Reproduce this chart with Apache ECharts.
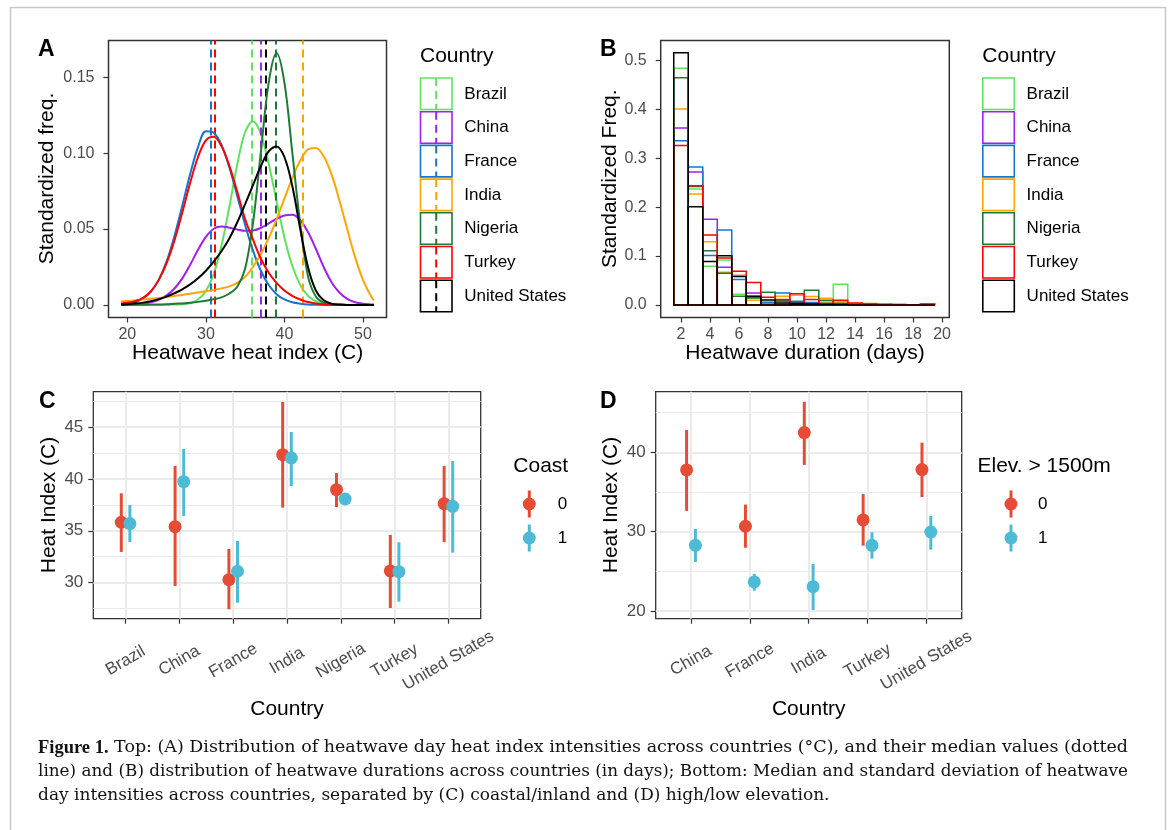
<!DOCTYPE html>
<html><head><meta charset="utf-8">
<script src="https://cdn.jsdelivr.net/npm/echarts@6/dist/echarts.min.js"></script>
<style>html,body{margin:0;padding:0;background:#fff}#c{width:1170px;height:830px}</style>
</head><body><div id="c"></div>
<script>
// ---------------- DATA ----------------
const countries = ['Brazil','China','France','India','Nigeria','Turkey','United States'];
const countryColors = ['#5FE35F','#A020F0','#1874CD','#FFA500','#1F7A3A','#FF0000','#000000'];

// Panel A: density of heatwave heat index
const heatX = [19.2,20,21,22,23,24,25,26,27,28,29,30,31,32,33,34,35,36,37,38,39,40,41,42,43,44,45,46,47,48,49,50,51,51.4];
const densBrazil  = [0,0,0,0,0,0,0.0001,0.0002,0.0004,0.0012,0.0036,0.0092,0.0205,0.0393,0.0650,0.0927,0.1140,0.1210,0.1126,0.0930,0.0684,0.0445,0.0258,0.0133,0.0060,0.0024,0.0009,0.0003,0.0001,0,0,0,0,0];
const densChina   = [0.0001,0.0002,0.0004,0.0008,0.0017,0.0033,0.0063,0.0108,0.0175,0.0265,0.0363,0.0448,0.0502,0.0517,0.0509,0.0497,0.0489,0.0491,0.0507,0.0537,0.0568,0.0590,0.0594,0.0560,0.0480,0.0370,0.0250,0.0150,0.0082,0.0040,0.0018,0.0008,0.0003,0.0002];
const densFrance  = [0.0003,0.0007,0.0018,0.0042,0.0087,0.0165,0.0287,0.0454,0.0655,0.0863,0.1040,0.1145,0.1135,0.1054,0.0904,0.0717,0.0527,0.0358,0.0225,0.0131,0.0071,0.0036,0.0017,0.0008,0.0003,0.0001,0,0,0,0,0,0,0,0];
const densIndia   = [0.0022,0.0025,0.0030,0.0035,0.0040,0.0046,0.0052,0.0059,0.0066,0.0074,0.0082,0.0090,0.0099,0.0109,0.0122,0.0145,0.0185,0.0250,0.0335,0.0440,0.0565,0.0700,0.0835,0.0950,0.1025,0.1035,0.0980,0.0860,0.0690,0.0500,0.0315,0.0165,0.0060,0.0030];
const densNigeria = [0,0,0.0001,0.0001,0.0002,0.0003,0.0005,0.0008,0.0010,0.0015,0.0020,0.0027,0.0037,0.0050,0.0075,0.0120,0.0240,0.0540,0.1007,0.1465,0.1660,0.1465,0.1007,0.0540,0.0190,0.0055,0.0015,0.0004,0.0001,0,0,0,0,0];
const densTurkey  = [0.0010,0.0014,0.0024,0.0046,0.0090,0.0165,0.0275,0.0425,0.0610,0.0805,0.0975,0.1085,0.1108,0.1045,0.0915,0.0745,0.0565,0.0430,0.0305,0.0212,0.0145,0.0095,0.0060,0.0036,0.0019,0.0009,0.0004,0.0002,0.0001,0,0,0,0,0];
const densUS      = [0.0003,0.0005,0.0009,0.0015,0.0025,0.0038,0.0055,0.0077,0.0103,0.0135,0.0175,0.0225,0.0285,0.0355,0.0440,0.0545,0.0665,0.0790,0.0915,0.1012,0.1045,0.0975,0.0785,0.0505,0.0250,0.0095,0.0030,0.0008,0.0002,0,0,0,0,0];
const heatMedians = [35.9, 37.0, 30.65, 42.3, 38.9, 31.15, 37.6];
const heatTicks = [20,30,40,50];
const freqTicksA = [0,0.05,0.10,0.15];

// Panel B: histogram of heatwave duration
const durationDays = [2,3,4,5,6,7,8,9,10,11,12,13,14,15,16,17,18,19];
const histBrazil  = [0.484,0.237,0.079,0.092,0.022,0.014,0.006,0.003,0.002,0.004,0.006,0.042,0.001,0,0,0,0,0];
const histChina   = [0.362,0.272,0.175,0.077,0.060,0.0245,0.004,0.0075,0.006,0.004,0.002,0.001,0.001,0,0,0,0,0];
const histFrance  = [0.336,0.282,0.101,0.153,0.052,0.018,0.0054,0.0245,0.0075,0.005,0.002,0.005,0.001,0,0,0,0,0];
const histIndia   = [0.401,0.227,0.129,0.067,0.060,0.0095,0.0075,0.0177,0.0197,0.017,0.0136,0.006,0.003,0.003,0.002,0,0,0];
const histNigeria = [0.465,0.2425,0.111,0.065,0.0177,0.014,0.026,0.0095,0.006,0.030,0.0095,0.002,0.001,0,0,0,0,0];
const histTurkey  = [0.326,0.244,0.143,0.096,0.0686,0.046,0.0156,0.011,0.023,0.011,0.003,0.0095,0.004,0.002,0.001,0.001,0,0.002];
const histUS      = [0.516,0.201,0.089,0.1005,0.058,0.017,0.010,0.004,0.003,0.002,0.001,0.001,0,0,0,0,0,0];
const durTicks = [2,4,6,8,10,12,14,16,18,20];
const freqTicksB = [0,0.1,0.2,0.3,0.4,0.5];

// Panel C: coast
const coastCountries = ['Brazil','China','France','India','Nigeria','Turkey','United States'];
const coast0Median = [35.82,35.40,30.29,42.33,38.96,31.13,37.61];
const coast0Low    = [32.96,29.68,27.44,37.23,37.29,27.56,33.92];
const coast0High   = [38.61,41.24,33.25,47.41,40.57,34.60,41.24];
const coast1Median = [35.69,39.73,31.10,42.01,38.06,31.06,37.36];
const coast1Low    = [33.92,36.43,28.07,39.32,37.70,28.17,32.89];
const coast1High   = [37.49,42.88,34.02,44.52,38.40,33.89,41.72];
const heatTicksC = [30,35,40,45];
const heatMinorC = [27.5,32.5,37.5,42.5,47.5];

// Panel D: elevation
const elevCountries = ['China','France','India','Turkey','United States'];
const elev0Median = [37.78,30.68,42.49,31.48,37.82];
const elev0Low    = [32.61,27.98,38.41,28.24,34.37];
const elev0High   = [42.82,33.41,46.36,34.75,41.22];
const elev1Median = [28.28,23.66,23.07,28.28,29.96];
const elev1Low    = [26.18,22.56,20.13,26.60,27.73];
const elev1High   = [30.34,24.67,25.93,29.92,31.98];
const heatTicksD = [20,30,40];
const heatMinorD = [25,35,45];

// ---------------- BUILD ----------------
const FONT = '"Liberation Sans", Arial, Helvetica, sans-serif';
const SERIF = '"DejaVu Serif", "Liberation Serif", serif';
const SERIFB = '"Liberation Serif", "Times New Roman", serif';
const TICKC = '#4D4D4D';
const RED = '#E64B35', BLUE = '#4DBBD5';

const densSets = [densBrazil,densChina,densFrance,densIndia,densNigeria,densTurkey,densUS];
const histSets = [histBrazil,histChina,histFrance,histIndia,histNigeria,histTurkey,histUS];

function valAxis(gi, min, max, ticks, fmt, fs, margin, extra) {
  return Object.assign({
    type:'value', gridIndex:gi, min:min, max:max, scale:false,
    axisLine:{show:false, onZero:false},
    axisTick:{show:true, length:5, lineStyle:{color:'#333', width:1.2}, customValues:ticks},
    axisLabel:{show:true, customValues:ticks, formatter:fmt, color:TICKC, fontSize:fs, fontFamily:FONT, margin:margin},
    splitLine:{show:false}, minorTick:{show:false}, minorSplitLine:{show:false}
  }, extra||{});
}
function minorAxis(gi, min, max, ticks, w) {
  return {type:'value', gridIndex:gi, min:min, max:max, position:'left',
    axisLine:{show:false, onZero:false}, axisTick:{show:false, customValues:ticks}, axisLabel:{show:false, customValues:ticks},
    splitLine:{show:true, lineStyle:{color:'#EBEBEB', width:w}}};
}

const series = [];
// A densities
countries.forEach((c,k)=>{
  series.push({
    type:'line', name:c, xAxisIndex:0, yAxisIndex:0, data: heatX.map((x,i)=>[x, densSets[k][i]]),
    showSymbol:false, symbol:'none', smooth:0.35, lineStyle:{color:countryColors[k], width:2}, itemStyle:{color:countryColors[k]},
    z:3+k,
    markLine:{silent:true, symbol:['none','none'], label:{show:false}, animation:false,
      lineStyle:{color:countryColors[k], width:2, type:[8,5]}, data:[{xAxis:heatMedians[k]}]}
  });
});
// B histograms
countries.forEach((c,k)=>{
  series.push({
    type:'custom', name:c+' hist', xAxisIndex:1, yAxisIndex:1, z:3+k,
    data: durationDays.map((d,i)=>[d, histSets[k][i]]),
    renderItem:(params, api)=>{
      const x = api.value(0), y = api.value(1);
      const p0 = api.coord([x-0.5, y]), p1 = api.coord([x+0.5, 0]);
      return {type:'rect', shape:{x:p0[0], y:p0[1], width:p1[0]-p0[0], height:p1[1]-p0[1]},
        style:{fill:'none', stroke:countryColors[k], lineWidth:1.5}};
    }
  });
});
// C / D pointranges
function errSeries(xi, yi, xs, lo, hi, dodge, color, z) {
  return {type:'custom', xAxisIndex:xi, yAxisIndex:yi, z:z,
    data: xs.map((_,i)=>[i+dodge, lo[i], hi[i]]),
    renderItem:(params, api)=>{
      const a = api.coord([api.value(0), api.value(1)]), b = api.coord([api.value(0), api.value(2)]);
      return {type:'line', shape:{x1:a[0], y1:a[1], x2:b[0], y2:b[1]}, style:{stroke:color, lineWidth:3}};
    }};
}
function ptSeries(xi, yi, xs, med, dodge, color, z) {
  return {type:'scatter', xAxisIndex:xi, yAxisIndex:yi, z:z, symbol:'circle', symbolSize:13,
    itemStyle:{color:color, opacity:1, borderWidth:0}, data: xs.map((_,i)=>[i+dodge, med[i]])};
}
const dC = 0.08, dD = 0.075;
series.push(errSeries(2,2,coastCountries,coast0Low,coast0High,-dC,RED,10));
series.push(ptSeries(2,2,coastCountries,coast0Median,-dC,RED,11));
series.push(errSeries(2,2,coastCountries,coast1Low,coast1High,dC,BLUE,12));
series.push(ptSeries(2,2,coastCountries,coast1Median,dC,BLUE,13));
series.push(errSeries(3,4,elevCountries,elev0Low,elev0High,-dD,RED,10));
series.push(ptSeries(3,4,elevCountries,elev0Median,-dD,RED,11));
series.push(errSeries(3,4,elevCountries,elev1Low,elev1High,dD,BLUE,12));
series.push(ptSeries(3,4,elevCountries,elev1Median,dD,BLUE,13));

// ---------------- GRAPHICS (legends, titles, caption) ----------------
const g = [];
function txt(x, y, text, o) {
  g.push({type:'text', x:x, y:y, z:50, style:Object.assign({text:text, fontFamily:FONT, fontSize:17, fill:'#000', align:'left', verticalAlign:'middle'}, o||{})});
}
function vtxt(x, y, text, o) {
  g.push({type:'text', x:x, y:y, rotation:Math.PI/2, z:50, style:Object.assign({text:text, fontFamily:FONT, fontSize:21, fill:'#000', align:'center', verticalAlign:'middle'}, o||{})});
}
// outer border
g.push({type:'rect', z:0, shape:{x:10.5, y:7.5, width:1155, height:840}, style:{fill:'none', stroke:'#C8C8C8', lineWidth:1.5}});
// panel letters
[['A',38,50],['B',600,50],['C',39,402],['D',600,402]].forEach(p=>txt(p[1],p[2],p[0],{fontSize:23, fontWeight:'bold'}));
// axis titles
txt(247.6, 353.5, 'Heatwave heat index (C)', {fontSize:21, align:'center'});
vtxt(47.5, 178.5, 'Standardized freq.');
txt(805, 353.5, 'Heatwave duration (days)', {fontSize:21, align:'center'});
vtxt(610, 178.7, 'Standardized Freq.');
txt(287, 709, 'Country', {fontSize:21, align:'center'});
vtxt(49, 505, 'Heat Index (C)');
txt(808.7, 709, 'Country', {fontSize:21, align:'center'});
vtxt(611, 505, 'Heat Index (C)');
// legends A & B
function countryLegend(x0, dashed) {
  txt(x0, 56.7, 'Country', {fontSize:21});
  countries.forEach((c,k)=>{
    const top = 78 + k*33.7;
    g.push({type:'rect', z:50, shape:{x:x0+0.5, y:top, width:31.5, height:31.5}, style:{fill:'#fff', stroke:countryColors[k], lineWidth:1.6}});
    if (dashed) g.push({type:'line', z:51, shape:{x1:x0+16.2, y1:top, x2:x0+16.2, y2:top+31.5}, style:{stroke:countryColors[k], lineWidth:2, lineDash:[8,5]}});
    txt(x0+44.3, top+16, c, {fontSize:17});
  });
}
countryLegend(420, true);
countryLegend(982.3, false);
// legends C & D
function pointLegend(x0, titleY, title, dotX, labX) {
  txt(x0, titleY, title, {fontSize:21});
  [[RED,'0',504],[BLUE,'1',538]].forEach(it=>{
    g.push({type:'line', z:50, shape:{x1:dotX, y1:it[2]-13.5, x2:dotX, y2:it[2]+13.5}, style:{stroke:it[0], lineWidth:3}});
    g.push({type:'circle', z:51, shape:{cx:dotX, cy:it[2], r:6.5}, style:{fill:it[0]}});
    txt(labX, it[2], it[1], {fontSize:17});
  });
}
pointLegend(513.3, 466.3, 'Coast', 529.3, 557.7);
pointLegend(977.5, 466.3, 'Elev. > 1500m', 1011, 1038);
// caption (lines 1-2 justified to the text block width, line 3 natural)
const mctx = document.createElement('canvas').getContext('2d');
function measure(font, s) { mctx.font = font; return mctx.measureText(s).width; }
const CAP_FS = 17, CAP_B = 18, CAP_W = 1090;
const capLines = [
  ['Figure 1.', ' Top: (A) Distribution of heatwave day heat index intensities across countries (°C), and their median values (dotted', true],
  ['', 'line) and (B) distribution of heatwave durations across countries (in days); Bottom: Median and standard deviation of heatwave', true],
  ['', 'day intensities across countries, separated by (C) coastal/inland and (D) high/low elevation.', false]
];
capLines.forEach((l,i)=>{
  const w = (l[0] ? measure('bold '+CAP_B+'px "Liberation Serif"', l[0]) : 0) + measure(CAP_FS+'px "DejaVu Serif"', l[1]);
  const sx = l[2] ? CAP_W / w : 1;
  g.push({type:'text', x:38, y:748+i*24, scaleX:sx, z:50, style:{text:(l[0] ? '{b|'+l[0]+'}' : '') + l[1], fontFamily:SERIF, fontSize:CAP_FS, fill:'#111', align:'left', verticalAlign:'middle',
    rich:{b:{fontFamily:SERIFB, fontSize:CAP_B, fontWeight:'bold', fill:'#111'}}}});
});

// ---------------- OPTION ----------------
const option = {
  animation:false,
  backgroundColor:'#fff',
  grid:[
    {left:108.5, top:40.5, width:278, height:277, show:true, borderColor:'#333', borderWidth:1.5, backgroundColor:'#fff', containLabel:false, outerBoundsMode:'none'},
    {left:660.7, top:40.5, width:288.6, height:277, show:true, borderColor:'#333', borderWidth:1.5, backgroundColor:'#fff', containLabel:false, outerBoundsMode:'none'},
    {left:93.3, top:391.7, width:387.4, height:227, show:true, borderColor:'#333', borderWidth:1.3, backgroundColor:'#fff', containLabel:false, outerBoundsMode:'none'},
    {left:655.7, top:391.7, width:306, height:227, show:true, borderColor:'#333', borderWidth:1.3, backgroundColor:'#fff', containLabel:false, outerBoundsMode:'none'}
  ],
  xAxis:[
    valAxis(0, 17.6, 53.0, heatTicks, v=>String(v), 16, 9),
    valAxis(1, 0.6, 20.5, durTicks, v=>String(v), 16, 9),
    valAxis(2, -0.6, 6.6, coastCountries.map((_,i)=>i), v=>coastCountries[Math.round(v)], 17, 42,
      {splitLine:{show:true, lineStyle:{color:'#EBEBEB', width:2}}}),
    valAxis(3, -0.6, 4.6, elevCountries.map((_,i)=>i), v=>elevCountries[Math.round(v)], 17, 42,
      {splitLine:{show:true, lineStyle:{color:'#EBEBEB', width:2}}})
  ],
  yAxis:[
    valAxis(0, -0.0083, 0.1743, freqTicksA, v=>v.toFixed(2), 16, 14),
    valAxis(1, -0.0258, 0.541, freqTicksB, v=>v.toFixed(1), 16, 14),
    valAxis(2, 26.53, 48.4, heatTicksC, v=>String(v), 17, 10, {splitLine:{show:true, lineStyle:{color:'#EBEBEB', width:2}}}),
    minorAxis(2, 26.53, 48.4, heatMinorC, 1.2),
    valAxis(3, 19.03, 47.64, heatTicksD, v=>String(v), 17, 10, {splitLine:{show:true, lineStyle:{color:'#EBEBEB', width:2}}}),
    minorAxis(3, 19.03, 47.64, heatMinorD, 1.2)
  ],
  series: series,
  graphic: g
};
// rotated category labels in C & D
[2,3].forEach(i=>{ Object.assign(option.xAxis[i].axisLabel, {rotate:30, align:'center', verticalAlign:'middle'}); });

const chart = echarts.init(document.getElementById('c'), null, {renderer:'canvas', width:1170, height:830});
chart.setOption(option);
</script>
</body></html>
